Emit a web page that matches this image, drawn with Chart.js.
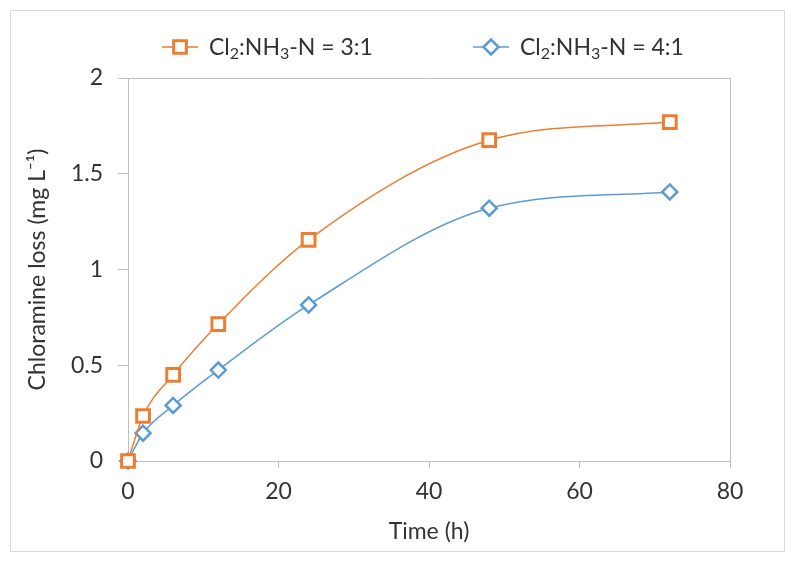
<!DOCTYPE html>
<html>
<head>
<meta charset="utf-8">
<script src="https://cdn.jsdelivr.net/npm/chart.js@4/dist/chart.umd.min.js"></script>
<style>
  html, body { margin: 0; padding: 0; background: #fff; }
  #wrap { width: 796px; height: 563px; }
</style>
</head>
<body>
<div id="wrap"><canvas id="chart" width="796" height="563"></canvas></div>
<script>
// sampling times (h)
const times = [0, 2, 6, 12, 24, 48, 72];
// chloramine loss (mg/L)
const loss3to1 = [0, 0.235, 0.45, 0.715, 1.155, 1.675, 1.77];
const loss4to1 = [0, 0.145, 0.29, 0.475, 0.815, 1.32, 1.405];
// legend labels, split into [text, isSubscript] pieces
const label3to1 = [["Cl", false], ["2", true], [":NH", false], ["3", true], ["-N = 3:1", false]];
const label4to1 = [["Cl", false], ["2", true], [":NH", false], ["3", true], ["-N = 4:1", false]];
const xTicks = [0, 20, 40, 60, 80];
const yTicks = [0, 0.5, 1, 1.5, 2];

const ORANGE = "#ED7D31";
const BLUE = "#5B9BD5";
const FONT = "Lato, 'Open Sans', sans-serif";
const TEXT = "#333333";
const AXIS = "#BFBFBF";
const FS = 23;

const toPoints = (ys) => times.map((t, i) => ({ x: t, y: ys[i] }));

// outer frame + plot border
const framePlugin = {
  id: "frame",
  beforeDraw(chart) {
    const ctx = chart.ctx;
    ctx.save();
    ctx.fillStyle = "#fff";
    ctx.fillRect(0, 0, chart.width, chart.height);
    ctx.strokeStyle = "#D9D9D9";
    ctx.lineWidth = 1;
    ctx.strokeRect(10.5, 10.5, chart.width - 22, chart.height - 22);
    ctx.restore();
  },
  afterDatasetsDraw(chart) {
    const { ctx, chartArea } = chart;
    ctx.save();
    ctx.strokeStyle = AXIS;
    ctx.lineWidth = 1;
    ctx.beginPath();
    ctx.moveTo(chartArea.left, chartArea.top + 0.5);
    ctx.lineTo(chartArea.right + 0.5, chartArea.top + 0.5);
    ctx.lineTo(chartArea.right + 0.5, chartArea.bottom);
    ctx.stroke();
    ctx.restore();
  }
};

// legend with subscripts, drawn by hand
const legendPlugin = {
  id: "subLegend",
  afterDraw(chart) {
    const ctx = chart.ctx;
    const items = [
      { x: 162, label: label3to1, ds: 0 },
      { x: 473, label: label4to1, ds: 1 }
    ];
    const y = 47;
    ctx.save();
    items.forEach((it) => {
      const ds = chart.data.datasets[it.ds];
      ctx.strokeStyle = ds.borderColor;
      ctx.lineWidth = 1.5;
      ctx.beginPath();
      ctx.moveTo(it.x, y);
      ctx.lineTo(it.x + 36, y);
      ctx.stroke();
      ctx.fillStyle = "#fff";
      ctx.strokeStyle = ds.borderColor;
      ctx.lineWidth = ds.pointBorderWidth;
      Chart.helpers.drawPoint(ctx, {
        pointStyle: ds.pointStyle,
        radius: ds.pointRadius,
        borderWidth: ds.pointBorderWidth
      }, it.x + 18, y);

      let tx = it.x + 47;
      ctx.fillStyle = TEXT;
      ctx.textBaseline = "alphabetic";
      it.label.forEach(([s, sub]) => {
        ctx.font = (sub ? Math.round(FS * 0.68) + "px " : FS + "px ") + FONT;
        ctx.fillText(s, tx, y + (sub ? 12 : 8));
        tx += ctx.measureText(s).width;
      });
    });
    ctx.restore();
  }
};

new Chart(document.getElementById("chart"), {
  type: "scatter",
  data: {
    datasets: [
      {
        label: "Cl2:NH3-N = 3:1",
        data: toPoints(loss3to1),
        showLine: true,
        cubicInterpolationMode: "monotone",
        borderColor: ORANGE,
        borderWidth: 1.5,
        backgroundColor: "#fff",
        pointStyle: "rect",
        pointRadius: 9,
        pointBorderWidth: 3,
        pointBackgroundColor: "#fff",
        pointBorderColor: ORANGE
      },
      {
        label: "Cl2:NH3-N = 4:1",
        data: toPoints(loss4to1),
        showLine: true,
        cubicInterpolationMode: "monotone",
        borderColor: BLUE,
        borderWidth: 1.5,
        backgroundColor: "#fff",
        pointStyle: "rectRot",
        pointRadius: 7.5,
        pointBorderWidth: 2.5,
        pointBackgroundColor: "#fff",
        pointBorderColor: BLUE
      }
    ]
  },
  options: {
    responsive: false,
    animation: false,
    clip: false,
    layout: { padding: { left: 12, top: 78, right: 66, bottom: 12 } },
    plugins: {
      legend: { display: false },
      tooltip: { enabled: false }
    },
    scales: {
      x: {
        type: "linear",
        min: 0,
        max: 80,
        afterBuildTicks: (scale) => { scale.ticks = xTicks.map((v) => ({ value: v })); },
        afterFit: (scale) => { scale.height = 90; },
        grid: { drawOnChartArea: false, drawTicks: true, tickLength: 7, color: AXIS },
        border: { color: AXIS },
        ticks: { color: TEXT, font: { family: FONT, size: FS }, padding: 10, maxRotation: 0, callback: (v) => String(v) },
        title: { display: true, text: "Time (h)", color: TEXT, font: { family: FONT, size: FS }, padding: { top: 4, bottom: 6 } }
      },
      y: {
        type: "linear",
        min: 0,
        max: 2,
        afterBuildTicks: (scale) => { scale.ticks = yTicks.map((v) => ({ value: v })); },
        afterFit: (scale) => { scale.width = 116; },
        grid: { drawOnChartArea: false, drawTicks: true, tickLength: 10, color: AXIS },
        border: { color: AXIS },
        ticks: { color: TEXT, font: { family: FONT, size: FS }, padding: 15, callback: (v) => String(v) },
        title: { display: true, text: "Chloramine loss (mg L⁻¹)", color: TEXT, font: { family: FONT, size: FS }, padding: { top: 12, bottom: 4 } }
      }
    }
  },
  plugins: [framePlugin, legendPlugin]
});
</script>
</body>
</html>
